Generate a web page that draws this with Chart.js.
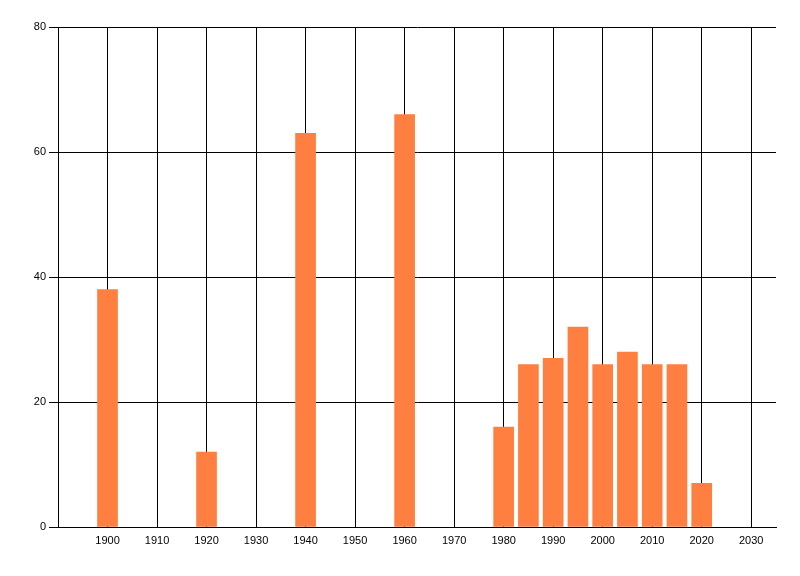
<!DOCTYPE html>
<html>
<head>
<meta charset="utf-8">
<script src="https://cdn.jsdelivr.net/npm/chart.js@4/dist/chart.umd.min.js"></script>
<style>
html,body{margin:0;padding:0;background:#fff;}
#wrap{width:800px;height:576px;}
</style>
</head>
<body>
<div id="wrap"><canvas id="c" width="800" height="576"></canvas></div>
<script>
const years = [1900, 1920, 1940, 1960, 1980, 1985, 1990, 1995, 2000, 2005, 2010, 2015, 2020];
const values = [38, 12, 63, 66, 16, 26, 27, 32, 26, 28, 26, 26, 7];
const xTickValues = [1900, 1910, 1920, 1930, 1940, 1950, 1960, 1970, 1980, 1990, 2000, 2010, 2020, 2030];
const yTickValues = [0, 20, 40, 60, 80];

const points = years.map((y, i) => ({x: y, y: values[i]}));

new Chart(document.getElementById('c'), {
  type: 'bar',
  data: {
    datasets: [{
      data: points,
      backgroundColor: '#FF7F40',
      borderWidth: 0,
      barThickness: 20
    }]
  },
  options: {
    responsive: false,
    animation: false,
    devicePixelRatio: 1,
    layout: {padding: {left: 0, top: 27, right: 24, bottom: 0}},
    plugins: {legend: {display: false}, tooltip: {enabled: false}},
    scales: {
      x: {
        type: 'linear',
        min: 1890,
        max: 2035,
        offset: false,
        afterBuildTicks: s => { s.ticks = xTickValues.map(v => ({value: v})); },
        afterFit: s => { s.height = 49; },
        grid: {color: '#000', lineWidth: 1, drawTicks: false, offset: false},
        border: {color: '#000', width: 1},
        ticks: {
          color: '#000',
          font: {family: 'Liberation Sans', size: 11},
          padding: 7,
          maxRotation: 0,
          autoSkip: false,
          callback: v => String(v)
        }
      },
      y: {
        min: 0,
        max: 80,
        afterBuildTicks: s => { s.ticks = yTickValues.map(v => ({value: v})); },
        afterFit: s => { s.width = 58; },
        grid: {color: '#000', lineWidth: 1, drawTicks: true, tickLength: 9},
        border: {color: '#000', width: 1},
        ticks: {
          color: '#000',
          font: {family: 'Liberation Sans', size: 11},
          padding: 3,
          callback: v => String(v)
        }
      }
    }
  }
});
</script>
</body>
</html>
